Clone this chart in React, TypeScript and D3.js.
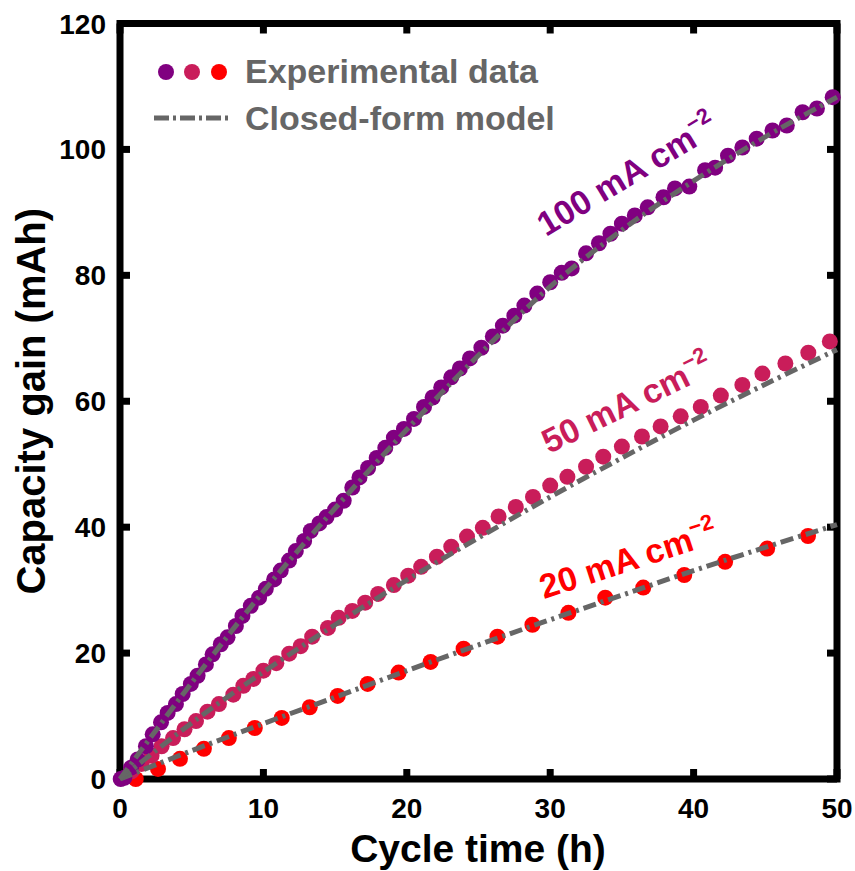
import React from "react";
import * as d3 from "d3";

const W = 855;
const H = 871;

const xTicks = [0, 10, 20, 30, 40, 50];
const yTicks = [0, 20, 40, 60, 80, 100, 120];
const xTitle = "Cycle time (h)";
const yTitle = "Capacity gain (mAh)";
const legendExp = "Experimental data";
const legendModel = "Closed-form model";
const labels = ["100 mA cm", "50 mA cm", "20 mA cm"];
const colors = ["#800080", "#C91D5A", "#FF0000"];

// 100 mA cm-2 experimental
const exp100X = [0.05, 0.3, 0.77, 1.23, 1.81, 2.28, 2.86, 3.32, 3.9, 4.37, 4.94, 5.41, 5.99, 6.46, 7.03, 7.5, 8.08, 8.54, 9.12, 9.7, 10.17, 10.75, 11.21, 11.79, 12.26, 12.84, 13.3, 13.9, 14.4, 15.0, 15.6, 16.2, 16.7, 17.3, 17.9, 18.5, 19.1, 19.8, 20.5, 21.2, 21.8, 22.4, 23.1, 23.7, 24.4, 25.2, 26.0, 26.7, 27.5, 28.2, 29.1, 30.0, 30.8, 31.5, 32.5, 33.4, 34.2, 35.0, 35.9, 36.8, 37.9, 38.7, 39.7, 40.8, 41.5, 42.4, 43.4, 44.4, 45.5, 46.5, 47.6, 48.6, 49.7];
const exp100Y = [0.0, 0.2, 1.8, 3.1, 5.2, 7.1, 9.0, 10.5, 11.9, 13.5, 15.1, 16.4, 18.2, 19.8, 21.4, 22.5, 24.3, 25.9, 27.5, 28.8, 30.2, 31.7, 33.1, 34.7, 36.2, 37.8, 39.4, 40.6, 41.6, 42.8, 44.2, 46.3, 47.9, 49.4, 51.0, 52.6, 54.2, 55.6, 57.2, 59.1, 60.6, 62.2, 63.8, 65.2, 66.8, 68.5, 70.3, 72.0, 73.6, 75.2, 77.1, 78.9, 80.4, 81.1, 83.5, 85.1, 86.6, 88.2, 89.5, 90.8, 92.4, 93.8, 94.1, 96.7, 97.1, 99.0, 100.3, 101.7, 103.0, 103.8, 105.9, 106.5, 108.3];

// 50 mA cm-2 experimental
const exp50X = [0.8, 1.5, 2.2, 2.9, 3.7, 4.5, 5.3, 6.1, 6.9, 7.9, 8.6, 9.3, 10.0, 10.9, 11.8, 12.6, 13.4, 14.5, 15.25, 16.2, 17.1, 18.0, 19.1, 20.1, 21.0, 22.1, 23.1, 24.2, 25.3, 26.4, 27.6, 28.8, 30.0, 31.2, 32.5, 33.7, 35.0, 36.4, 37.7, 39.1, 40.5, 41.9, 43.4, 44.8, 46.4, 48.0, 49.5];
const exp50Y = [1.2, 2.4, 3.7, 5.2, 6.5, 7.9, 9.2, 10.7, 11.9, 13.4, 14.8, 15.9, 17.2, 18.4, 19.9, 21.1, 22.6, 24.0, 25.6, 26.7, 28.0, 29.4, 30.8, 32.3, 33.7, 35.3, 36.9, 38.5, 39.9, 41.7, 43.2, 44.8, 46.6, 48.0, 49.6, 51.2, 52.8, 54.4, 56.0, 57.6, 59.1, 60.9, 62.6, 64.4, 66.0, 67.7, 69.5];

// 20 mA cm-2 experimental
const exp20X = [1.1, 2.65, 4.18, 5.85, 7.59, 9.4, 11.28, 13.23, 15.18, 17.27, 19.43, 21.66, 23.96, 26.32, 28.76, 31.27, 33.84, 36.49, 39.35, 42.2, 45.13, 47.98];
const exp20Y = [0.0, 1.6, 3.2, 4.8, 6.5, 8.1, 9.7, 11.4, 13.2, 15.1, 16.9, 18.6, 20.7, 22.6, 24.5, 26.4, 28.8, 30.4, 32.4, 34.5, 36.6, 38.6];

// closed-form model curves
const modelX = [0, 5, 10, 15, 20, 25, 30, 35, 40, 45, 50];
const model100Y = [0, 15.3, 29.8, 43.0, 55.5, 67.3, 78.2, 87.2, 95.0, 102.0, 108.3];
const model50Y = [0, 8.9, 17.0, 24.5, 31.6, 38.3, 44.8, 51.0, 57.0, 62.7, 68.2];
const model20Y = [0, 4.5, 8.8, 13.0, 17.2, 21.3, 25.3, 29.2, 33.1, 36.8, 40.4];

const left = 120, right = 837, top = 23.5, bottom = 779;
const x = d3.scaleLinear().domain([0, 50]).range([left, right]);
const y = d3.scaleLinear().domain([0, 120]).range([bottom, top]);

const font = "'Liberation Sans', Arial, Helvetica, sans-serif";
const gray = "#666666";

const expSeries = [
  { xs: exp20X, ys: exp20Y, color: colors[2] },
  { xs: exp50X, ys: exp50Y, color: colors[1] },
  { xs: exp100X, ys: exp100Y, color: colors[0] },
];
const models = [model20Y, model50Y, model100Y];

const lineGen = d3
  .line<[number, number]>()
  .x((d) => x(d[0]))
  .y((d) => y(d[1]))
  .curve(d3.curveCatmullRom.alpha(0.5));

const labelPos = [
  { px: 546, py: 237, angle: -31, color: colors[0], text: labels[0] },
  { px: 549, py: 454, angle: -26, color: colors[1], text: labels[1] },
  { px: 544, py: 599, angle: -18, color: colors[2], text: labels[2] },
];

export default function App() {
  const tickLen = 10;
  const tickW = 7;
  return (
    <svg
      width={W}
      height={H}
      style={{ position: "absolute", left: 0, top: 0, display: "block", background: "#fff" }}
      fontFamily={font}
      fontWeight="bold"
    >
      <rect x={0} y={0} width={W} height={H} fill="#fff" />
      {/* frame */}
      <rect x={left} y={top} width={right - left} height={bottom - top} fill="none" stroke="#000" strokeWidth={7} />
      {/* ticks */}
      {xTicks.map((t) => (
        <g key={"xt" + t}>
          <line x1={x(t)} x2={x(t)} y1={bottom} y2={bottom - tickLen} stroke="#000" strokeWidth={tickW} />
          <line x1={x(t)} x2={x(t)} y1={top} y2={top + tickLen} stroke="#000" strokeWidth={tickW} />
          <text x={x(t)} y={818} fontSize={28} textAnchor="middle" fill="#000">
            {t}
          </text>
        </g>
      ))}
      {yTicks.map((t) => (
        <g key={"yt" + t}>
          <line x1={left} x2={left + tickLen} y1={y(t)} y2={y(t)} stroke="#000" strokeWidth={tickW} />
          <line x1={right} x2={right - tickLen} y1={y(t)} y2={y(t)} stroke="#000" strokeWidth={tickW} />
          <text x={106} y={y(t) + 10} fontSize={28} textAnchor="end" fill="#000">
            {t}
          </text>
        </g>
      ))}
      {/* axis titles */}
      <text x={478} y={862} fontSize={39} textAnchor="middle" fill="#000">
        {xTitle}
      </text>
      <text
        transform={`translate(45, ${(top + bottom) / 2}) rotate(-90)`}
        fontSize={40}
        textAnchor="middle"
        fill="#000"
      >
        {yTitle}
      </text>
      {/* experimental points */}
      {expSeries.map((s, i) => (
        <g key={"s" + i}>
          {s.xs.map((xv, j) => (
            <circle key={j} cx={x(xv)} cy={y(s.ys[j])} r={8} fill={s.color} />
          ))}
        </g>
      ))}
      {/* model lines */}
      {models.map((m, i) => (
        <path
          key={"m" + i}
          d={lineGen(modelX.map((xv, j) => [xv, m[j]] as [number, number])) || ""}
          fill="none"
          stroke={gray}
          strokeWidth={5}
          strokeDasharray="13,5,3,5"
        />
      ))}
      {/* curve labels */}
      {labelPos.map((l, i) => (
        <text
          key={"l" + i}
          transform={`translate(${l.px}, ${l.py}) rotate(${l.angle})`}
          fontSize={34}
          fill={l.color}
        >
          {l.text}
          <tspan fontSize={22} dy={-15}>
            {"\u22122"}
          </tspan>
        </text>
      ))}
      {/* legend */}
      {[166, 192, 219].map((cx, i) => (
        <circle key={"lg" + i} cx={cx} cy={72} r={8} fill={colors[i]} />
      ))}
      <text x={245} y={83} fontSize={34} fill={gray}>
        {legendExp}
      </text>
      <line x1={154} x2={231} y1={118} y2={118} stroke={gray} strokeWidth={5} strokeDasharray="15,4,3,4" />
      <text x={245} y={130} fontSize={34} fill={gray}>
        {legendModel}
      </text>
    </svg>
  );
}
